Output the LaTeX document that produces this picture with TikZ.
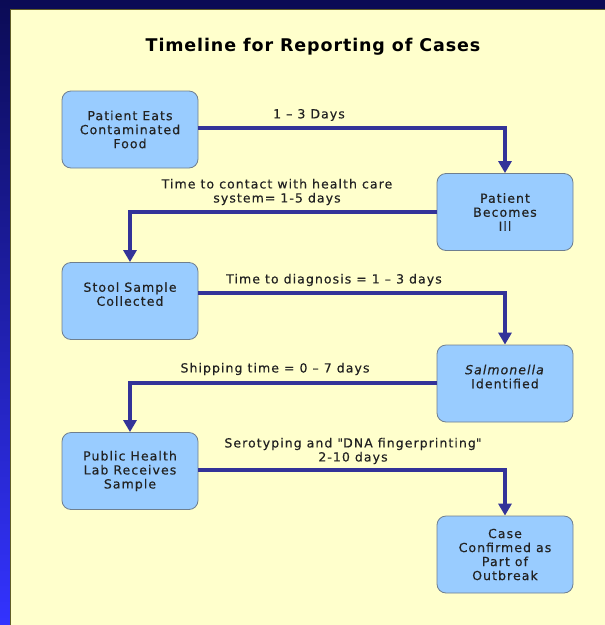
\documentclass[tikz,border=0pt]{standalone}
\usepackage{fontspec}
\setmainfont{DejaVu Sans}
\newfontfamily\bodyfont[LetterSpace=8.5,FakeBold=0.4]{DejaVu Sans}
\newfontfamily\titlefont[LetterSpace=5]{DejaVu Sans Bold}
\usetikzlibrary{arrows.meta}
\definecolor{panel}{HTML}{FFFFCC}
\definecolor{boxfill}{HTML}{99CCFF}
\definecolor{boxedge}{HTML}{6F7F8F}
\definecolor{linkc}{HTML}{333399}
\definecolor{navy}{HTML}{0B0B55}
\definecolor{brightblue}{HTML}{3333FF}
\definecolor{txt}{HTML}{222222}
\tikzset{
  stepbox/.style={draw=boxedge, line width=0.8pt, fill=boxfill, rounded corners=9pt,
    minimum width=136pt, minimum height=77pt, align=center, text=txt,
    font=\bodyfont\fontsize{12.5}{14}\selectfont, inner sep=2pt},
  link/.style={draw=linkc, line width=4pt, -{Triangle[length=12pt,width=13pt]}},
  lbl/.style={align=center, text=txt, font=\bodyfont\fontsize{12.5}{14}\selectfont, inner sep=0pt},
}
\begin{document}
\begin{tikzpicture}[x=1pt,y=-1pt]
\useasboundingbox (0,0) rectangle (605,625);
% background frame
\fill[navy] (0,0) rectangle (605,10);
\shade[top color=navy, bottom color=brightblue] (0,0) rectangle (10,625);
\fill[navy] (10,0) rectangle (605,9);
\fill[panel] (10.5,9.5) rectangle (605,625);
\draw[olive!60!black, line width=1pt] (10.5,625) -- (10.5,9.5) -- (605,9.5);

\node[font=\titlefont\fontsize{17.5}{20}\selectfont] (title) at (313,47) {Timeline for Reporting of Cases};

\node[stepbox] (b1) at (130,129.5) {Patient Eats\\Contaminated\\Food};
\node[stepbox] (b2) at (505,212) {Patient\\Becomes\\Ill};
\node[stepbox] (b3) at (130,301) {Stool Sample\\Collected\\\mbox{}};
\node[stepbox] (b4) at (505,383.5) {\textit{Salmonella}\\Identified\\\mbox{}};
\node[stepbox] (b5) at (130,471) {Public Health\\Lab Receives\\Sample};
\node[stepbox] (b6) at (505,554.5) {Case\\Confirmed as\\Part of\\Outbreak};

\draw[link] ([yshift=1.5pt]b1.east) -| (b2.north);
\draw[link] (b2.west) -| (b3.north);
\draw[link] ([yshift=8pt]b3.east) -| (b4.north);
\draw[link] ([yshift=0.5pt]b4.west) -| (b5.north);
\draw[link] ([yshift=1pt]b5.east) -| (b6.north);

\node[lbl] (l1) at (309,115) {1 – 3 Days};
\node[lbl] (l2) at (277,192) {Time to contact with health care\\system= 1-5 days};
\node[lbl] (l3) at (334,280) {Time to diagnosis = 1 – 3 days};
\node[lbl] (l4) at (275,369) {Shipping time = 0 – 7 days};
\node[lbl] (l5) at (353,451) {Serotyping and \textquotedbl DNA fingerprinting\textquotedbl\\2-10 days};
\end{tikzpicture}
\end{document}
